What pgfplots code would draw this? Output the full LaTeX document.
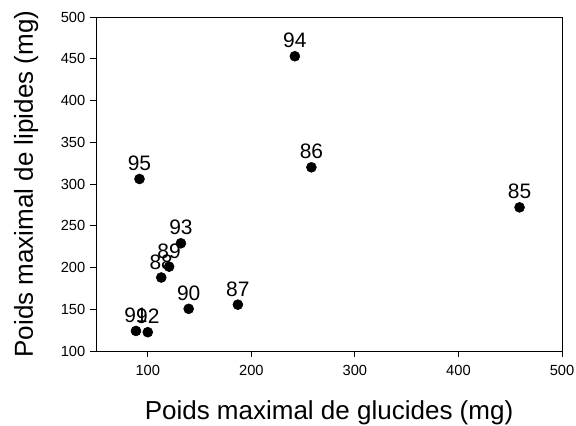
\documentclass[border=0pt]{standalone}
\usepackage{pgfplots}
\pgfplotsset{compat=1.18}
\usepackage{fontspec}
\setmainfont{Liberation Sans}
\begin{document}
\begin{tikzpicture}
\begin{axis}[
  scale only axis, width=349.5pt, height=250.5pt,
  xmin=50, xmax=500, ymin=100, ymax=500,
  xtick={100,200,300,400,500}, ytick={100,150,...,500},
  tick align=outside, tick pos=left, major tick length=4.5pt,
  axis line style={line width=0.7pt}, every tick/.style={black, line width=0.7pt},
  /pgf/number format/assume math mode=true,
  /pgf/number format/1000 sep={},
  tick label style={font=\fontsize{11}{13}\selectfont},
  xticklabel style={yshift=-2.5pt},
  xlabel={Poids maximal de glucides (mg)},
  ylabel={Poids maximal de lipides (mg)},
  label style={font=\fontsize{19.5}{22}\selectfont},
  xlabel style={at={(axis description cs:0.5,-0.2044)}, anchor=base},
  ylabel style={at={(axis description cs:-0.1352,0.5)}, anchor=base},
  nodes near coords, point meta=explicit symbolic,
  every node near coord/.append style={font=\fontsize{15.7}{18}\selectfont, anchor=center, yshift=11.7pt, inner sep=0pt, black},
]
\addplot[only marks, mark=*, black, mark size=3.75pt] table[meta=label] {
x y label
242 453 94
258 320 86
459 272 85
92 306 95
132 229 93
120.6 201 89
113 188 88
139.5 150.5 90
187 155.5 87
88.6 124 91
100 122.5 92
};
\end{axis}
\pgfresetboundingbox
\path (current axis.south west) ++(-72pt,-56.25pt) rectangle ([shift={(10.5pt,12.75pt)}]current axis.north east);
\end{tikzpicture}
\end{document}
